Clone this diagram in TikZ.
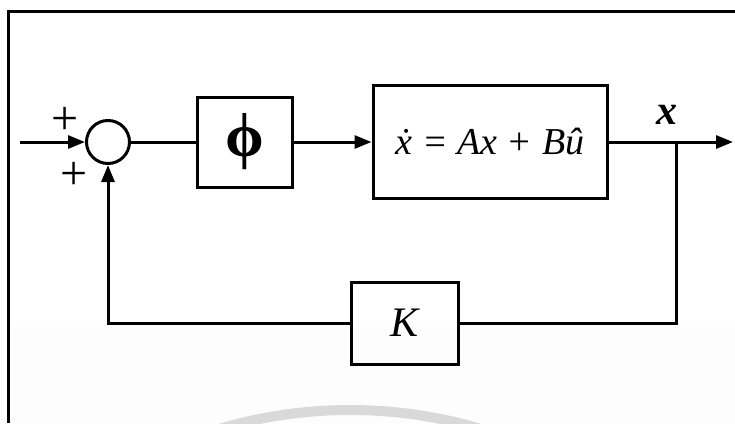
\documentclass[tikz,border=0pt]{standalone}
\usepackage{fontspec}
\setmainfont{Liberation Serif}
\usetikzlibrary{arrows.meta}
\begin{document}
\begin{tikzpicture}[x=1pt,y=-1pt,
  wire/.style={line width=3pt},
  arr/.style={wire,-{Triangle[length=17pt,width=13pt]}},
  blk/.style={draw,line width=3pt,inner sep=0pt},
  lbl/.style={inner sep=0pt}]
\useasboundingbox (0,0) rectangle (735,423);
% faint background band and watermark arc
\fill[black!0.8] (8,327) rectangle (735,423);
\begin{scope}
\clip (0,0) rectangle (735,423);
\draw[black!15,line width=10pt] (350,868) circle (458pt);
\end{scope}
% outer frame
\draw[line width=3pt] (8,423) -- (8,11) -- (735,11);
% blocks
\node[draw,circle,line width=3pt,minimum size=43pt,inner sep=0pt] (sum) at (108,142) {};
\node[blk,minimum width=95pt,minimum height=90pt] (phi) at (244.5,142)
  {\fontsize{62}{68}\selectfont\bfseries ϕ};
\node[blk,minimum width=234pt,minimum height=113pt] (plant) at (490,142)
  {\fontsize{38}{44}\selectfont\itshape \.{x} = Ax + B\^{u}};
\node[blk,minimum width=107pt,minimum height=82pt] (K) at (404.5,323)
  {\fontsize{42}{48}\selectfont\itshape K};
% coordinates
\coordinate (in) at (20,142);
\coordinate (out) at (733,142);
\coordinate (br) at (676,142);
% labels
\node[lbl] (p1) at (65,121) {\fontsize{48}{54}\selectfont +};
\node[lbl] (p2) at (74,176) {\fontsize{48}{54}\selectfont +};
\node[lbl] (xl) at (667,115) {\fontsize{42}{48}\selectfont\bfseries\itshape x};
% connectors
\draw[arr] (in) -- (sum.west);
\draw[wire] (sum.east) -- (phi.west);
\draw[arr] (phi.east) -- (plant.west);
\draw[arr] (plant.east) -- (out);
\draw[wire] (br) |- (K.east);
\draw[arr] (K.west) -| (sum.south);
\end{tikzpicture}
\end{document}
